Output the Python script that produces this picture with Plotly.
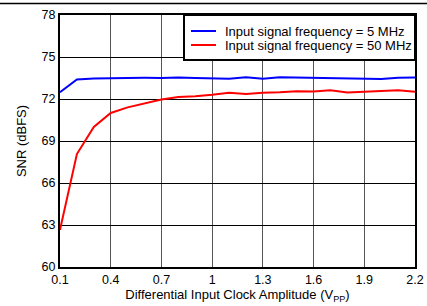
import plotly.graph_objects as go

amplitude = [0.1, 0.2, 0.3, 0.4, 0.5, 0.6, 0.7, 0.8, 0.9, 1.0, 1.1,
             1.2, 1.3, 1.4, 1.5, 1.6, 1.7, 1.8, 1.9, 2.0, 2.1, 2.2]
snr_5mhz = [72.48, 73.40, 73.47, 73.50, 73.51, 73.51, 73.50, 73.53, 73.50, 73.50, 73.45,
            73.56, 73.45, 73.55, 73.53, 73.52, 73.51, 73.52, 73.50, 73.43, 73.52, 73.53]
snr_50mhz = [62.65, 68.07, 70.00, 71.00, 71.40, 71.70, 71.97, 72.15, 72.20, 72.31, 72.45,
             72.35, 72.45, 72.48, 72.55, 72.53, 72.63, 72.46, 72.50, 72.57, 72.63, 72.52]
series_names = ["Input signal frequency = 5 MHz", "Input signal frequency = 50 MHz"]
series_colors = ["#0000ff", "#ff0000"]
x_ticks = [0.1, 0.4, 0.7, 1.0, 1.3, 1.6, 1.9, 2.2]
x_tick_labels = ["0.1", "0.4", "0.7", "1", "1.3", "1.6", "1.9", "2.2"]
y_ticks = [60, 63, 66, 69, 72, 75, 78]

fig = go.Figure()
for name, vals, col in zip(series_names, [snr_5mhz, snr_50mhz], series_colors):
    fig.add_trace(go.Scatter(x=amplitude, y=vals, mode="lines", name=name,
                             line=dict(color=col, width=2), showlegend=False))

W, H = 427, 306
TOP = 3                       # paper starts 3 px below the page top (top rule)
PW, PH = W, H - TOP
PLOT_L, PLOT_R, PLOT_T, PLOT_B = 60, 415, 15, 267


def fx(x):
    return x / PW


def fy(y):
    return (H - y) / PH


font = "Liberation Sans, Arial, sans-serif"
fig.update_layout(
    width=W, height=H,
    margin=dict(l=0, r=0, t=TOP, b=0, autoexpand=False),
    paper_bgcolor="white", plot_bgcolor="white",
    font=dict(family=font, size=12, color="black"),
    showlegend=False,
    xaxis=dict(domain=[fx(PLOT_L), fx(PLOT_R)],
               range=[0.1, 2.2], tickvals=x_ticks, ticktext=x_tick_labels,
               showgrid=True, gridcolor="#555555", gridwidth=1.2,
               showline=True, linecolor="black", linewidth=2, mirror=True,
               ticks="", zeroline=False, tickfont=dict(size=12.5), automargin=True,
               title=dict(text="Differential Input Clock Amplitude (V<sub>PP</sub>)",
                          font=dict(size=13), standoff=3)),
    yaxis=dict(domain=[fy(PLOT_B), fy(PLOT_T)],
               range=[60, 78], tickvals=y_ticks,
               showgrid=True, gridcolor="#000000", gridwidth=1.2,
               showline=True, linecolor="black", linewidth=2, mirror=True,
               ticks="", zeroline=False, tickfont=dict(size=12.5), automargin=True,
               title=dict(text="SNR (dBFS)", font=dict(size=13), standoff=12)),
)

# top rule across the whole figure (top edge of the paper)
fig.add_shape(type="line", xref="paper", yref="paper", x0=0, x1=1,
              y0=fy(3.5), y1=fy(3.5), line=dict(color="black", width=1.5), layer="above")

# legend box
fig.add_shape(type="rect", xref="paper", yref="paper", x0=fx(184), x1=fx(PLOT_R),
              y0=fy(60), y1=fy(PLOT_T),
              fillcolor="white", line=dict(color="black", width=2), layer="above")
for i, (name, col) in enumerate(zip(series_names, series_colors)):
    yy = fy(31 + 14 * i)
    fig.add_shape(type="line", xref="paper", yref="paper", x0=fx(191), x1=fx(216),
                  y0=yy, y1=yy, line=dict(color=col, width=2), layer="above")
    fig.add_annotation(xref="paper", yref="paper", x=fx(223), y=yy, text=name,
                       showarrow=False, xanchor="left", yanchor="middle",
                       font=dict(size=13, color="black"))

fig.write_html(
    "out.html", config={"displayModeBar": False},
    post_script=("document.body.style.margin='0';"
                 "document.body.style.overflow='hidden';"
                 "document.documentElement.style.overflow='hidden';"
                 "window.scrollTo(0,0);"))
